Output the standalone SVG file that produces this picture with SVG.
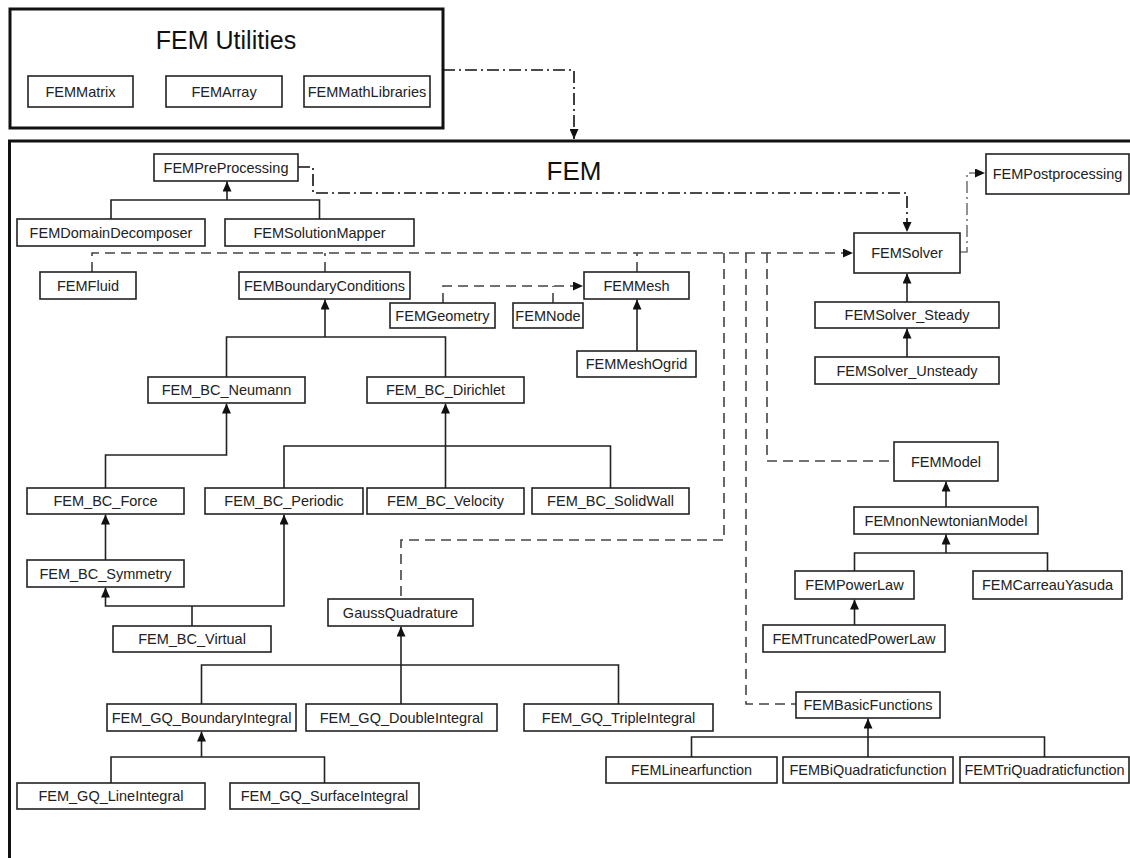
<svg xmlns="http://www.w3.org/2000/svg" width="1130" height="858" viewBox="0 0 1130 858">
<style>
.box{fill:#fff;stroke:#222;stroke-width:1.6}
.lbl{font-family:"Liberation Sans",Arial,sans-serif;font-size:14.5px;text-anchor:middle;fill:#222}
.title{font-family:"Liberation Sans",Arial,sans-serif;text-anchor:middle;fill:#111}
.frame{fill:none;stroke:#111;stroke-width:3}
.solid{fill:none;stroke:#222;stroke-width:1.6}
.dash{fill:none;stroke:#444;stroke-width:1.6;stroke-dasharray:10,6}
.dashdot{fill:none;stroke:#111;stroke-width:1.6;stroke-dasharray:12,4,2,4}
.dashdotg{fill:none;stroke:#777;stroke-width:1.6;stroke-dasharray:12,4,2,4}
</style>
<defs>
<marker id="tri" markerUnits="userSpaceOnUse" markerWidth="10" markerHeight="9" refX="10" refY="4.5" orient="auto">
<path d="M0,0 L10,4.5 L0,9 z" fill="#111"/>
</marker>
</defs>
<rect width="1130" height="858" fill="#fff"/>

<g id="fem-utilities">
<rect class="frame" x="10" y="9" width="433" height="119"/>
<text class="title" x="226" y="49" font-size="25">FEM Utilities</text>
</g>
<g id="fem">
<path class="frame" d="M1132,141 H9.5 V862"/>
<text class="title" x="574" y="180" font-size="26">FEM</text>
</g>

<g id="connectors">
<path class="dashdot" d="M443,70 H574 V139" marker-end="url(#tri)"/>
<path class="dashdot" d="M298,167 H313 V193 H907 V232" marker-end="url(#tri)"/>
<path class="dashdotg" d="M960,252 H967 V173 H985" marker-end="url(#tri)"/>

<path class="dash" d="M92,272 V253 H853" marker-end="url(#tri)"/>
<path class="dash" d="M325,272 V253"/>
<path class="dash" d="M637,272 V253"/>
<path class="dash" d="M724,253 V540 H401 V599"/>
<path class="dash" d="M746,253 V704 H796"/>
<path class="dash" d="M767,253 V461 H894"/>
<path class="dash" d="M443,303 V286 H583" marker-end="url(#tri)"/>
<path class="dash" d="M553,303 V286"/>

<path class="solid" d="M111,219 V200 H319.5 V219"/>
<path class="solid" d="M227,200 V181.5" marker-end="url(#tri)"/>
<path class="solid" d="M226.5,377 V337 H445.5 V377"/>
<path class="solid" d="M325,337 V299.5" marker-end="url(#tri)"/>
<path class="solid" d="M105.5,488 V455 H226.5 V403.5" marker-end="url(#tri)"/>
<path class="solid" d="M284,488 V446 H610.5 V488"/>
<path class="solid" d="M445.5,488 V403.5" marker-end="url(#tri)"/>
<path class="solid" d="M105.5,560 V514.5" marker-end="url(#tri)"/>
<path class="solid" d="M192,626 V606"/>
<path class="solid" d="M192,606 H105.5 V587.5" marker-end="url(#tri)"/>
<path class="solid" d="M192,606 H284 V514.5" marker-end="url(#tri)"/>
<path class="solid" d="M637,351 V299.5" marker-end="url(#tri)"/>
<path class="solid" d="M907,302 V273.5" marker-end="url(#tri)"/>
<path class="solid" d="M907,357 V328.5" marker-end="url(#tri)"/>
<path class="solid" d="M946,507 V481.5" marker-end="url(#tri)"/>
<path class="solid" d="M854.5,571 V553 H1047.5 V571"/>
<path class="solid" d="M946,553 V534.5" marker-end="url(#tri)"/>
<path class="solid" d="M854.5,625 V599.5" marker-end="url(#tri)"/>
<path class="solid" d="M201.5,704 V665 H618.5 V704"/>
<path class="solid" d="M401,704 V626.5" marker-end="url(#tri)"/>
<path class="solid" d="M111,783 V757 H324.5 V783"/>
<path class="solid" d="M201.5,757 V731.5" marker-end="url(#tri)"/>
<path class="solid" d="M691.5,757 V737 H1044.5 V757"/>
<path class="solid" d="M868,757 V718.5" marker-end="url(#tri)"/>
</g>

<g id="FEMMatrix"><rect class="box" x="28" y="76" width="105" height="31"/><text class="lbl" x="80.5" y="96.5">FEMMatrix</text></g>
<g id="FEMArray"><rect class="box" x="166" y="76" width="116" height="31"/><text class="lbl" x="224" y="96.5">FEMArray</text></g>
<g id="FEMMathLibraries"><rect class="box" x="304" y="76" width="126" height="31"/><text class="lbl" x="367" y="96.5">FEMMathLibraries</text></g>

<g id="FEMPreProcessing"><rect class="box" x="154" y="154" width="144" height="27"/><text class="lbl" x="226" y="172.5">FEMPreProcessing</text></g>
<g id="FEMDomainDecomposer"><rect class="box" x="17" y="219" width="188" height="27"/><text class="lbl" x="111" y="237.5">FEMDomainDecomposer</text></g>
<g id="FEMSolutionMapper"><rect class="box" x="225" y="219" width="189" height="27"/><text class="lbl" x="319.5" y="237.5">FEMSolutionMapper</text></g>
<g id="FEMFluid"><rect class="box" x="40" y="272" width="96" height="27"/><text class="lbl" x="88" y="290.5">FEMFluid</text></g>
<g id="FEMBoundaryConditions"><rect class="box" x="239" y="272" width="171" height="27"/><text class="lbl" x="324.5" y="290.5">FEMBoundaryConditions</text></g>
<g id="FEMGeometry"><rect class="box" x="390" y="303" width="105" height="25"/><text class="lbl" x="442.5" y="320.5">FEMGeometry</text></g>
<g id="FEMNode"><rect class="box" x="513" y="303" width="70" height="25"/><text class="lbl" x="548" y="320.5">FEMNode</text></g>
<g id="FEMMesh"><rect class="box" x="584" y="272" width="105" height="27"/><text class="lbl" x="636.5" y="290.5">FEMMesh</text></g>
<g id="FEMMeshOgrid"><rect class="box" x="577" y="351" width="119" height="26"/><text class="lbl" x="636.5" y="369">FEMMeshOgrid</text></g>
<g id="FEMSolver"><rect class="box" x="854" y="233" width="106" height="40"/><text class="lbl" x="907" y="258">FEMSolver</text></g>
<g id="FEMPostprocessing"><rect class="box" x="986" y="154" width="143" height="40"/><text class="lbl" x="1057.5" y="179">FEMPostprocessing</text></g>
<g id="FEMSolver_Steady"><rect class="box" x="815" y="302" width="184" height="26"/><text class="lbl" x="907" y="320">FEMSolver_Steady</text></g>
<g id="FEMSolver_Unsteady"><rect class="box" x="815" y="357" width="184" height="27"/><text class="lbl" x="907" y="375.5">FEMSolver_Unsteady</text></g>

<g id="FEM_BC_Neumann"><rect class="box" x="148" y="377" width="157" height="26"/><text class="lbl" x="226.5" y="395">FEM_BC_Neumann</text></g>
<g id="FEM_BC_Dirichlet"><rect class="box" x="367" y="377" width="157" height="26"/><text class="lbl" x="445.5" y="395">FEM_BC_Dirichlet</text></g>
<g id="FEM_BC_Force"><rect class="box" x="27" y="488" width="157" height="26"/><text class="lbl" x="105.5" y="506">FEM_BC_Force</text></g>
<g id="FEM_BC_Periodic"><rect class="box" x="205" y="488" width="158" height="26"/><text class="lbl" x="284" y="506">FEM_BC_Periodic</text></g>
<g id="FEM_BC_Velocity"><rect class="box" x="367" y="488" width="157" height="26"/><text class="lbl" x="445.5" y="506">FEM_BC_Velocity</text></g>
<g id="FEM_BC_SolidWall"><rect class="box" x="532" y="488" width="157" height="26"/><text class="lbl" x="610.5" y="506">FEM_BC_SolidWall</text></g>
<g id="FEM_BC_Symmetry"><rect class="box" x="27" y="560" width="157" height="27"/><text class="lbl" x="105.5" y="578.5">FEM_BC_Symmetry</text></g>
<g id="FEM_BC_Virtual"><rect class="box" x="113" y="626" width="158" height="26"/><text class="lbl" x="192" y="644">FEM_BC_Virtual</text></g>

<g id="GaussQuadrature"><rect class="box" x="328" y="599" width="145" height="27"/><text class="lbl" x="400.5" y="617.5">GaussQuadrature</text></g>
<g id="FEM_GQ_BoundaryIntegral"><rect class="box" x="107" y="704" width="189" height="27"/><text class="lbl" x="201.5" y="722.5">FEM_GQ_BoundaryIntegral</text></g>
<g id="FEM_GQ_DoubleIntegral"><rect class="box" x="306" y="704" width="191" height="27"/><text class="lbl" x="401.5" y="722.5">FEM_GQ_DoubleIntegral</text></g>
<g id="FEM_GQ_TripleIntegral"><rect class="box" x="524" y="704" width="189" height="27"/><text class="lbl" x="618.5" y="722.5">FEM_GQ_TripleIntegral</text></g>
<g id="FEM_GQ_LineIntegral"><rect class="box" x="17" y="783" width="188" height="26"/><text class="lbl" x="111" y="801">FEM_GQ_LineIntegral</text></g>
<g id="FEM_GQ_SurfaceIntegral"><rect class="box" x="230" y="783" width="189" height="26"/><text class="lbl" x="324.5" y="801">FEM_GQ_SurfaceIntegral</text></g>

<g id="FEMModel"><rect class="box" x="894" y="442" width="104" height="39"/><text class="lbl" x="946" y="466.5">FEMModel</text></g>
<g id="FEMnonNewtonianModel"><rect class="box" x="854" y="507" width="184" height="27"/><text class="lbl" x="946" y="525.5">FEMnonNewtonianModel</text></g>
<g id="FEMPowerLaw"><rect class="box" x="795" y="571" width="119" height="28"/><text class="lbl" x="854.5" y="590">FEMPowerLaw</text></g>
<g id="FEMCarreauYasuda"><rect class="box" x="973" y="571" width="149" height="28"/><text class="lbl" x="1047.5" y="590">FEMCarreauYasuda</text></g>
<g id="FEMTruncatedPowerLaw"><rect class="box" x="763" y="625" width="182" height="27"/><text class="lbl" x="854" y="643.5">FEMTruncatedPowerLaw</text></g>

<g id="FEMBasicFunctions"><rect class="box" x="796" y="692" width="144" height="26"/><text class="lbl" x="868" y="710" textLength="129" lengthAdjust="spacingAndGlyphs">FEMBasicFunctions</text></g>
<g id="FEMLinearfunction"><rect class="box" x="606" y="757" width="171" height="26"/><text class="lbl" x="691.5" y="775" textLength="121" lengthAdjust="spacingAndGlyphs">FEMLinearfunction</text></g>
<g id="FEMBiQuadraticfunction"><rect class="box" x="783" y="757" width="170" height="26"/><text class="lbl" x="868" y="775" textLength="157" lengthAdjust="spacingAndGlyphs">FEMBiQuadraticfunction</text></g>
<g id="FEMTriQuadraticfunction"><rect class="box" x="960" y="757" width="169" height="26"/><text class="lbl" x="1044.5" y="775" textLength="160" lengthAdjust="spacingAndGlyphs">FEMTriQuadraticfunction</text></g>
</svg>
